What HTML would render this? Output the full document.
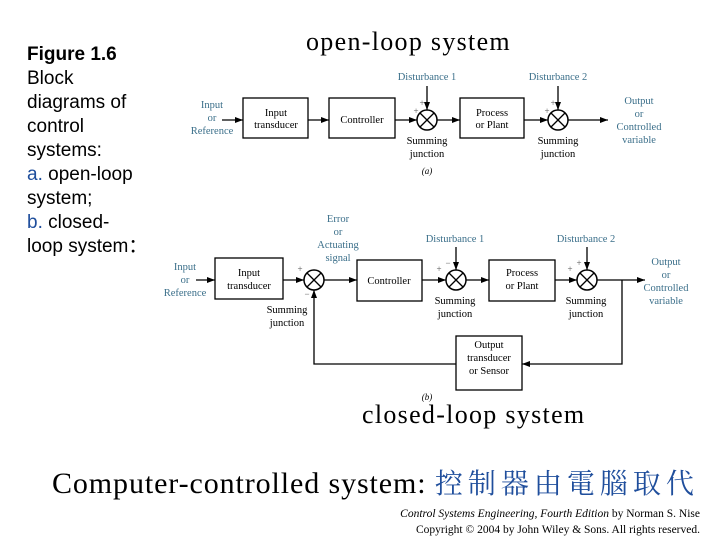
<!DOCTYPE html>
<html><head><meta charset="utf-8"><style>
body{margin:0;width:720px;height:540px;background:#fff;position:relative;overflow:hidden}
.l{position:absolute;left:27px;font-family:"Liberation Sans",Arial,sans-serif;font-size:19px;line-height:24px;color:#000}
.t{position:absolute;font-family:"Liberation Serif",serif;color:#000;white-space:nowrap}
</style></head><body>
<div class="l" style="top:43px"><b>Figure 1.6</b><br>Block<br>diagrams of<br>control<br>systems:<br><span style="color:#1f4e9c">a.</span> open-loop<br>system;<br><span style="color:#1f4e9c">b.</span> closed-<br>loop system：</div>
<div class="t" style="left:306px;top:27px;font-size:26px;letter-spacing:1.3px">open-loop system</div>
<div class="t" style="left:362px;top:400px;font-size:26px;letter-spacing:1.3px">closed-loop system</div>
<div class="t" style="left:52px;top:462px;font-size:30px;letter-spacing:0.9px">Computer-controlled system: <span style="font-family:'Noto Serif CJK SC',serif;color:#1f4e9c;font-size:28px;letter-spacing:5px">控制器由電腦取代</span></div>
<div class="t" style="right:20px;top:506px;font-size:11.5px;text-align:right;line-height:16px"><i>Control Systems Engineering, Fourth Edition</i> by Norman S. Nise<br>Copyright © 2004 by John Wiley &amp; Sons. All rights reserved.</div>
<svg width="720" height="540" style="position:absolute;left:0;top:0" font-family="Liberation Serif,serif" font-size="10.5">
<defs><marker id="a" markerWidth="8" markerHeight="6" refX="8" refY="3" orient="auto" markerUnits="userSpaceOnUse"><path d="M0,0L8,3L0,6z" fill="#000"/></marker>
<g id="s"><circle r="10" fill="#fff" stroke="#000" stroke-width="1.5"/><path d="M-7,-7L7,7M7,-7L-7,7" stroke="#000" stroke-width="1.3"/></g></defs>
<g stroke="#000" stroke-width="1.3" fill="none">
<rect x="243" y="98" width="65" height="40"/><rect x="329" y="98" width="66" height="40"/><rect x="460" y="98" width="64" height="40"/>
<path d="M222,120H243" marker-end="url(#a)"/><path d="M308,120H329" marker-end="url(#a)"/><path d="M395,120H417" marker-end="url(#a)"/>
<path d="M437,120H460" marker-end="url(#a)"/><path d="M524,120H548" marker-end="url(#a)"/><path d="M568,120H608" marker-end="url(#a)"/>
<path d="M427,86V110" marker-end="url(#a)"/><path d="M558,86V110" marker-end="url(#a)"/>
<rect x="215" y="258" width="68" height="41"/><rect x="357" y="260" width="65" height="41"/><rect x="489" y="260" width="66" height="41"/><rect x="456" y="336" width="66" height="54"/>
<path d="M196,280H215" marker-end="url(#a)"/><path d="M283,280H304" marker-end="url(#a)"/><path d="M324,280H357" marker-end="url(#a)"/>
<path d="M422,280H446" marker-end="url(#a)"/><path d="M466,280H489" marker-end="url(#a)"/><path d="M555,280H577" marker-end="url(#a)"/>
<path d="M597,280H645" marker-end="url(#a)"/><path d="M456,247V270" marker-end="url(#a)"/><path d="M587,247V270" marker-end="url(#a)"/>
<path d="M622,280V364H522" marker-end="url(#a)"/><path d="M456,364H314V290" marker-end="url(#a)"/>
</g>
<use href="#s" x="427" y="120"/><use href="#s" x="558" y="120"/><use href="#s" x="314" y="280"/><use href="#s" x="456" y="280"/><use href="#s" x="587" y="280"/>
<g text-anchor="middle">
<text x="276" y="116">Input</text><text x="276" y="128">transducer</text><text x="362" y="123">Controller</text><text x="492" y="116">Process</text><text x="492" y="128">or Plant</text>
<text x="427" y="144">Summing</text><text x="427" y="157">junction</text><text x="558" y="144">Summing</text><text x="558" y="157">junction</text>
<text x="427" y="174" font-style="italic" font-size="9">(a)</text>
<g fill="#3b6f8a"><text x="427" y="80">Disturbance 1</text><text x="558" y="80">Disturbance 2</text>
<text x="212" y="108">Input</text><text x="212" y="121">or</text><text x="212" y="134">Reference</text>
<text x="639" y="104">Output</text><text x="639" y="117">or</text><text x="639" y="130">Controlled</text><text x="639" y="143">variable</text>
<text x="185" y="270">Input</text><text x="185" y="283">or</text><text x="185" y="296">Reference</text>
<text x="338" y="222">Error</text><text x="338" y="235">or</text><text x="338" y="248">Actuating</text><text x="338" y="261">signal</text>
<text x="455" y="242">Disturbance 1</text><text x="586" y="242">Disturbance 2</text>
<text x="666" y="265">Output</text><text x="666" y="278">or</text><text x="666" y="291">Controlled</text><text x="666" y="304">variable</text></g>
<text x="249" y="276">Input</text><text x="249" y="289">transducer</text><text x="389" y="284">Controller</text><text x="522" y="276">Process</text><text x="522" y="289">or Plant</text>
<text x="287" y="313">Summing</text><text x="287" y="326">junction</text><text x="455" y="304">Summing</text><text x="455" y="317">junction</text><text x="586" y="304">Summing</text><text x="586" y="317">junction</text>
<text x="489" y="348">Output</text><text x="489" y="361">transducer</text><text x="489" y="374">or Sensor</text>
<text x="427" y="400" font-style="italic" font-size="9">(b)</text>
<g font-size="9" fill="#555"><text x="416" y="114">+</text><text x="422" y="106">+</text><text x="547" y="114">+</text><text x="553" y="106">+</text>
<text x="300" y="272">+</text><text x="307" y="297">−</text><text x="439" y="272">+</text><text x="448" y="266">−</text><text x="570" y="272">+</text><text x="579" y="266">+</text></g>
</g>
</svg>
</body></html>
